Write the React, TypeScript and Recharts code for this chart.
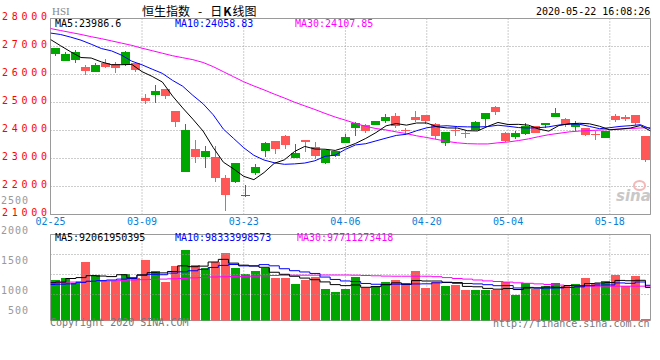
import React from "react";
import {
  Bar,
  CartesianGrid,
  ComposedChart,
  Line,
  ReferenceArea,
  ReferenceLine,
  XAxis,
  YAxis,
} from "recharts";

// HSI daily K-line, 2020-02-25 .. 2020-05-22
const dates = [
  "02-25", "02-26", "02-27", "02-28", "03-02", "03-03", "03-04", "03-05", "03-06", "03-09",
  "03-10", "03-11", "03-12", "03-13", "03-16", "03-17", "03-18", "03-19", "03-20", "03-23",
  "03-24", "03-25", "03-26", "03-27", "03-30", "03-31", "04-01", "04-02", "04-03", "04-06",
  "04-07", "04-08", "04-09", "04-14", "04-15", "04-16", "04-17", "04-20", "04-21", "04-22",
  "04-23", "04-24", "04-27", "04-28", "04-29", "05-04", "05-05", "05-06", "05-07", "05-08",
  "05-11", "05-12", "05-13", "05-14", "05-15", "05-18", "05-19", "05-20", "05-21", "05-22",
];

const opens = [
  26735, 26485, 26510, 26260, 26092, 26428, 26367, 26331, 26428, 25164,
  25285, 25474, 24689, 22521, 23332, 23046, 23046, 22286, 22164, 21664,
  22500, 23260, 23618, 23807, 23021, 23653, 23393, 22843, 23082, 23557,
  24093, 24214, 24189, 24342, 24510, 24020, 24475, 24557, 24250, 23557,
  24010, 23900, 24010, 24414, 24832, 23928, 23771, 23864, 24153, 24189,
  24475, 24414, 24128, 24093, 23878, 23735, 24510, 24475, 24557, 23796,
];
const highs = [
  26960, 26796, 26892, 26331, 26414, 26546, 26449, 26856, 26449, 25307,
  25617, 25480, 24700, 24225, 23653, 23439, 23439, 22403, 22850, 22071,
  22786, 23593, 23625, 23857, 23521, 23660, 23593, 23310, 23280, 23864,
  24300, 24220, 24340, 24592, 24617, 24093, 24689, 24560, 24260, 23960,
  24128, 23985, 24332, 24625, 24878, 23935, 23985, 24271, 24160, 24280,
  24807, 24464, 24342, 24100, 23975, 23990, 24582, 24546, 24560, 23800,
];
const lows = [
  26664, 26470, 26414, 25974, 26092, 26214, 26046, 26310, 26092, 24950,
  24985, 25117, 24117, 22500, 22843, 22664, 22164, 21118, 22150, 21650,
  22378, 23057, 23178, 23357, 23010, 23235, 22975, 22796, 23070, 23550,
  23807, 23914, 24180, 24285, 24093, 23857, 24307, 24250, 23678, 23475,
  23807, 23735, 24000, 24164, 24557, 23571, 23689, 23850, 23893, 24093,
  24470, 24128, 23985, 23807, 23653, 23730, 24307, 24321, 24214, 22878,
];
const closes = [
  26949, 26735, 26806, 26117, 26331, 26260, 26235, 26806, 26164, 25046,
  25403, 25235, 24307, 24035, 23046, 23285, 22286, 21689, 22843, 21714,
  22689, 23557, 23332, 23475, 23200, 23593, 23093, 23296, 23260, 23760,
  24285, 23985, 24332, 24475, 24164, 24000, 24367, 24332, 23807, 23950,
  23985, 23885, 24296, 24617, 24653, 23618, 23914, 24153, 23928, 24271,
  24628, 24214, 24250, 23832, 23832, 23985, 24367, 24414, 24285, 22939,
];

const ma5 = [
  27250, 27025, 26807, 26606, 26588, 26450, 26350, 26350, 26359, 26102,
  25931, 25731, 25231, 24805, 24405, 23982, 23392, 22868, 22630, 22363,
  22244, 22498, 22827, 22953, 23251, 23431, 23339, 23331, 23288, 23400,
  23539, 23717, 23924, 24167, 24248, 24191, 24268, 24268, 24134, 24091,
  24088, 23992, 23985, 24147, 24287, 24214, 24220, 24191, 24053, 23977,
  24179, 24239, 24258, 24239, 24151, 24023, 24053, 24086, 24177, 23987,
];
const ma10 = [
  27480, 27428, 27333, 27225, 27082, 26928, 26843, 26689, 26475, 26345,
  26190, 26040, 25790, 25582, 25254, 24956, 24561, 24050, 23718, 23384,
  23113, 22945, 22848, 22792, 22807, 22838, 22919, 23079, 23121, 23326,
  23485, 23528, 23628, 23728, 23824, 23865, 23992, 24096, 24151, 24170,
  24140, 24130, 24126, 24140, 24189, 24151, 24106, 24088, 24100, 24132,
  24196, 24229, 24225, 24146, 24064, 24101, 24146, 24172, 24208, 24059,
];
const ma30 = [
  27642, 27570, 27500, 27430, 27350, 27280, 27200, 27120, 27040, 26940,
  26850, 26760, 26670, 26600, 26530, 26430, 26280, 26100, 25920, 25740,
  25590, 25450, 25300, 25160, 25010, 24880, 24750, 24610, 24480, 24370,
  24250, 24150, 24070, 24020, 23950, 23890, 23810, 23750, 23680, 23610,
  23560, 23530, 23520, 23520, 23560, 23590, 23640, 23700, 23780, 23850,
  23900, 23950, 23980, 24000, 24015, 24035, 24050, 24070, 24090, 24108,
];

// volume, in the units of the left volume labels
const volumes = [
  1183, 1200, 1128, 1467, 1255, 1155, 1155, 1283, 1212, 1500,
  1333, 1138, 1400, 1683, 1433, 1378, 1483, 1617, 1367, 1267,
  1317, 1367, 1200, 1200, 1100, 1167, 1233, 1017, 972, 1017,
  1222, 1038, 1072, 1138, 1172, 1122, 1322, 1038, 1138, 1072,
  1088, 1005, 1005, 1005, 1005, 1145, 922, 1133, 1017, 1072,
  1122, 1072, 1105, 1205, 1122, 1155, 1255, 1078, 1238, 522,
];
const volMa5 = [
  1130, 1140, 1200, 1215, 1247, 1241, 1232, 1263, 1212, 1261,
  1297, 1293, 1317, 1411, 1397, 1406, 1475, 1519, 1456, 1422,
  1410, 1387, 1304, 1270, 1237, 1207, 1180, 1143, 1098, 1081,
  1092, 1053, 1064, 1097, 1128, 1108, 1165, 1158, 1158, 1138,
  1132, 1068, 1062, 1035, 1022, 1033, 1016, 1042, 1044, 1058,
  1053, 1083, 1078, 1115, 1125, 1132, 1168, 1163, 1170, 1050,
];
const volMa10 = [
  1100, 1105, 1110, 1135, 1155, 1165, 1175, 1190, 1200, 1254,
  1269, 1263, 1290, 1311, 1329, 1352, 1384, 1418, 1433, 1410,
  1408, 1431, 1411, 1363, 1330, 1309, 1284, 1224, 1184, 1159,
  1150, 1117, 1104, 1098, 1105, 1100, 1109, 1111, 1128, 1133,
  1120, 1117, 1110, 1097, 1080, 1082, 1042, 1052, 1040, 1040,
  1043, 1050, 1060, 1080, 1092, 1093, 1126, 1120, 1142, 1087,
];
const volMa30 = [
  1130, 1135, 1140, 1145, 1150, 1155, 1160, 1165, 1175, 1180,
  1185, 1190, 1195, 1200, 1210, 1215, 1225, 1228, 1232, 1235,
  1238, 1245, 1250, 1255, 1255, 1255, 1255, 1258, 1258, 1258,
  1255, 1250, 1245, 1240, 1238, 1238, 1238, 1238, 1230, 1215,
  1200, 1190, 1175, 1160, 1150, 1140, 1128, 1120, 1110, 1100,
  1090, 1080, 1075, 1072, 1072, 1072, 1072, 1072, 1072, 1072,
];

const tickIdx = [0, 9, 19, 29, 37, 45, 55];
const priceTicks = [21000, 22000, 23000, 24000, 25000, 26000, 27000, 28000];
const volTicks = [500, 1000, 1500, 2000, 2500];
const volGridLines = [1600, 1267, 933];

const UP = "#00a600";
const DOWN = "#ff5757";
const GRID = "#9a9a9a";
const MONO = "'DejaVu Sans Mono', monospace";

const rows = dates.map((d, i) => ({
  i,
  d,
  o: opens[i],
  h: highs[i],
  l: lows[i],
  c: closes[i],
  range: [lows[i], highs[i]],
  v: volumes[i],
  ma5: ma5[i],
  ma10: ma10[i],
  ma30: ma30[i],
  vma5: volMa5[i],
  vma10: volMa10[i],
  vma30: volMa30[i],
}));

function Candle(props: any) {
  const { x, y, width, height, payload } = props;
  const top = Math.min(y, y + height);
  const span = Math.abs(height);
  const ppu = span / (payload.h - payload.l || 1);
  const left = Math.floor(x + width / 2) - 5;
  const bTop = Math.round(top + (payload.h - Math.max(payload.o, payload.c)) * ppu);
  const bBot = Math.round(top + (payload.h - Math.min(payload.o, payload.c)) * ppu);
  const color = payload.c >= payload.o ? UP : DOWN;
  return (
    <g>
      <rect x={left + 4} y={Math.round(top)} width={1} height={Math.max(1, Math.round(span))} fill={color} />
      <rect x={left} y={bTop} width={9} height={Math.max(1, bBot - bTop)} fill={color} />
    </g>
  );
}

function VolBar(props: any) {
  const { x, y, width, height, payload } = props;
  const left = Math.floor(x + width / 2) - 5;
  const top = Math.round(Math.min(y, y + height));
  const bottom = Math.round(Math.max(y, y + height));
  return (
    <rect
      x={left}
      y={top}
      width={9}
      height={Math.max(1, bottom - top)}
      fill={payload.c >= payload.o ? UP : DOWN}
    />
  );
}

function PriceTick({ y, payload }: any) {
  return (
    <text x={2} y={y - 2} dominantBaseline="central" fill="#ff0000" fontFamily={MONO} fontSize={10} letterSpacing={3.7}>
      {payload.value}
    </text>
  );
}

function DateTick({ x, y, payload }: any) {
  return (
    <text x={x} y={y + 7} textAnchor="middle" dominantBaseline="central" fill="#0a7fd8" fontFamily={MONO} fontSize={10}>
      {dates[payload.value]}
    </text>
  );
}

function VolTick({ y, payload }: any) {
  // the lowest label is lifted above the bottom edge, as in the original
  const ty = payload.value === 500 ? y - 10 : y;
  return (
    <text x={29} y={ty} textAnchor="end" dominantBaseline="central" fill="#999" fontFamily={MONO} fontSize={10} letterSpacing={1}>
      {payload.value}
    </text>
  );
}

const abs = (left: number, top: number, extra: React.CSSProperties = {}): React.CSSProperties => ({
  position: "absolute",
  left,
  top,
  whiteSpace: "pre",
  fontFamily: MONO,
  fontSize: 10,
  lineHeight: "12px",
  ...extra,
});

export default function App() {
  return (
    <div style={{ position: "absolute", left: 0, top: 0, width: 660, height: 360, background: "#fff", overflow: "hidden" }}>
      <div style={{ position: "absolute", left: 0, top: 0 }}>
        <ComposedChart width={660} height={232} data={rows} margin={{ top: 18.5, right: 9.5, bottom: 0, left: 0 }}>
          <CartesianGrid stroke={GRID} strokeDasharray="1 2" />
          <XAxis
            dataKey="i"
            type="number"
            domain={[0, 59]}
            allowDataOverflow
            ticks={tickIdx}
            interval={0}
            height={17.5}
            tickSize={0}
            tickMargin={0}
            axisLine={false}
            tickLine={false}
            tick={<DateTick />}
          />
          <XAxis xAxisId="c" dataKey="d" type="category" hide />
          <YAxis
            domain={[21000, 28000]}
            allowDataOverflow
            ticks={priceTicks}
            interval={0}
            width={50.5}
            axisLine={false}
            tickLine={false}
            tick={<PriceTick />}
          />
          <ReferenceArea x1={0} x2={59} y1={21000} y2={28000} fill="none" stroke={GRID} strokeOpacity={1} />
          <Bar xAxisId="c" dataKey="range" barSize={9} isAnimationActive={false} shape={(p: any) => <Candle {...p} />} />
          <Line dataKey="ma30" stroke="#ff00ff" strokeWidth={1} dot={false} isAnimationActive={false} />
          <Line dataKey="ma10" stroke="#0000ff" strokeWidth={1} dot={false} isAnimationActive={false} />
          <Line dataKey="ma5" stroke="#000000" strokeWidth={1} dot={false} isAnimationActive={false} />
        </ComposedChart>
      </div>

      <div style={{ position: "absolute", left: 0, top: 180 }}>
        <ComposedChart width={660} height={160} data={rows} margin={{ top: 54.5, right: 9.5, bottom: 19.5, left: 0 }}>
          <CartesianGrid stroke={GRID} strokeDasharray="1 2" horizontal={false} />
          <XAxis dataKey="i" type="number" domain={[0, 59]} allowDataOverflow ticks={tickIdx} interval={0} hide />
          <XAxis xAxisId="c" dataKey="d" type="category" hide />
          <YAxis
            domain={[500, 1933.33]}
            allowDataOverflow
            ticks={volTicks}
            interval={0}
            width={50.5}
            axisLine={false}
            tickLine={false}
            tick={<VolTick />}
          />
          {volGridLines.map((v) => (
            <ReferenceLine key={v} y={v} stroke={GRID} strokeDasharray="1 2" />
          ))}
          <ReferenceArea x1={0} x2={59} y1={500} y2={1933.33} fill="none" stroke={GRID} strokeOpacity={1} />
          <Bar xAxisId="c" dataKey="v" barSize={9} isAnimationActive={false} shape={(p: any) => <VolBar {...p} />} />
          <Line type="step" dataKey="vma30" stroke="#ff00ff" strokeWidth={1} dot={false} isAnimationActive={false} />
          <Line type="step" dataKey="vma10" stroke="#0000ff" strokeWidth={1} dot={false} isAnimationActive={false} />
          <Line type="step" dataKey="vma5" stroke="#000000" strokeWidth={1} dot={false} isAnimationActive={false} />
        </ComposedChart>
      </div>

      <div style={abs(52, 5, { fontFamily: "'Liberation Serif', serif", fontSize: 11, color: "#888" })}>HSI</div>
      <div style={abs(142, 3, { fontFamily: "'Noto Sans CJK SC', sans-serif", fontSize: 12, lineHeight: "16px", color: "#000" })}>
        恒生指数<span style={{ marginLeft: 8, marginRight: 8 }}>-</span>日<b style={{ margin: "0 1px" }}>K</b>线图
      </div>
      <div style={abs(536, 6, { color: "#000" })}>2020-05-22 16:08:26</div>

      <div style={abs(55, 18, { color: "#000" })}>MA5:23986.6</div>
      <div style={abs(175, 18, { color: "#0000ff" })}>MA10:24058.83</div>
      <div style={abs(295, 18, { color: "#ff00ff" })}>MA30:24107.85</div>

      <div style={abs(55, 232, { color: "#000" })}>MA5:92061950395</div>
      <div style={abs(175, 232, { color: "#0000ff" })}>MA10:98333998573</div>
      <div style={abs(297, 232, { color: "#ff00ff" })}>MA30:97711273418</div>

      <div style={abs(616, 187, { fontFamily: "'DejaVu Sans', sans-serif", fontSize: 15, fontStyle: "italic", fontWeight: 700, color: "#c8c8c8", lineHeight: "18px" })}>
        sina
      </div>
      <div style={{ position: "absolute", left: 633, top: 180, width: 9, height: 7, borderRadius: "50%", border: "2px solid #f4b8b8" }} />

      <div style={abs(50, 317, { color: "#777" })}>Copyright 2020 SINA.COM</div>
      <div style={abs(493, 318, { color: "#777" })}>http://finance.sina.com.cn</div>
    </div>
  );
}
